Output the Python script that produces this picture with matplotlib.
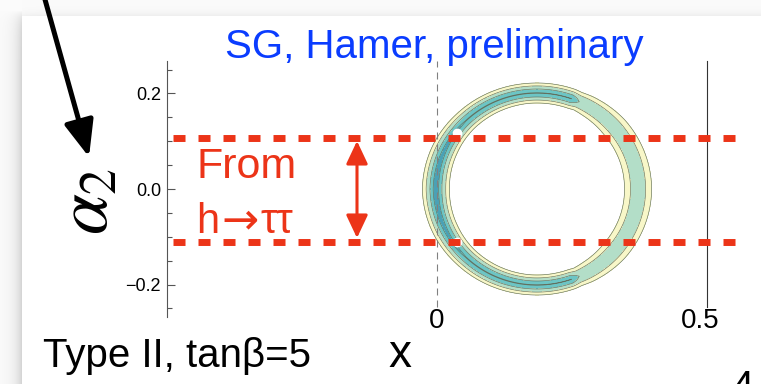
import numpy as np
import matplotlib
matplotlib.use("Agg")
import matplotlib.pyplot as plt
from matplotlib.patches import FancyArrowPatch
from matplotlib.ticker import FixedLocator, MultipleLocator

plt.rcParams['font.family'] = ['Liberation Sans', 'DejaVu Sans']

# ---- data -------------------------------------------------------------
x_limits = (-0.513, 0.513)
y_limits = (-0.268, 0.268)
y_major_ticks = [-0.2, 0.0, 0.2]
y_tick_labels = ['\u22120.2', '0.0', '0.2']
x_ticks = [0.0, 0.5]
x_tick_labels = ['0', '0.5']

# h -> tau tau allowed band for alpha_2
htautau_band = [-0.111, 0.107]

# allowed ring in the (x, alpha_2) plane
ring_center = (0.190, 0.0)
ring_radii = (0.192, 0.201)
profile_angle_deg = [0, 40, 60, 66, 70, 95, 135, 155, 180]
profile_floor = [3.65, 3.4, 2.7, 2.25, 0.497, 0.49, 0.49, 0.25, 0.0]
profile_sigma = [0.047, 0.044, 0.036, 0.032, 0.031, 0.031, 0.034, 0.037, 0.039]
chi2_levels = [-0.01, 0.5, 2.3, 6.18, 11.83]
band_colors = ['#4aa1b6', '#6cc5c5', '#b3dec8', '#f8f7c8']

# benchmark points
point_x = [0.038, 0.038]
point_y = [0.118, -0.112]

W, H = 761, 384
RED = '#ec3418'
BLUE = '#0a3cff'


def fig_xy(px, py):
    return px / W, 1 - py / H


fig = plt.figure(figsize=(W / 100, H / 100), dpi=100, facecolor='white')

# slide panel with soft shadow
yy, xx = np.mgrid[0:H, 0:W].astype(float)
bg = np.full((H, W), 0.985)
px0, py0 = 22, 16
left_dx = np.clip(px0 - xx, 0, None)
top_dy = np.clip(py0 - yy, 0, None)
fade_in = np.clip(1 - np.exp(-(yy - 10) / 8), 0, 1)
left_shadow = 0.17 * np.exp(-left_dx / 7) * fade_in
top_shadow = 0.06 * np.exp(-top_dy / 4) * np.clip(1 - np.exp(-(xx - 14) / 8), 0, 1)
bg = bg - np.where((xx < px0) & (yy >= 10), left_shadow, 0) - np.where((yy < py0) & (xx >= px0), top_shadow, 0)
bg[(xx >= px0) & (yy >= py0)] = 1.0
fig.figimage(np.dstack([bg, bg, bg]), xo=0, yo=0, origin='upper', zorder=-10)

ax = fig.add_axes([167 / W, 67 / H, 540 / W, 256 / H], zorder=1)
ax.patch.set_visible(False)
ax.set_xlim(*x_limits)
ax.set_ylim(*y_limits)

# chi^2 field around the ring
gx = np.linspace(-0.07, 0.46, 1000)
gy = np.linspace(-0.26, 0.26, 1000)
GX, GY = np.meshgrid(gx, gy)
ux = (GX - ring_center[0]) / ring_radii[0]
uy = (GY - ring_center[1]) / ring_radii[1]
rho = np.hypot(ux, uy)
theta = np.degrees(np.abs(np.arctan2(uy, ux)))
floor = np.interp(theta, profile_angle_deg, profile_floor)
sigma = np.interp(theta, profile_angle_deg, profile_sigma)
chi2 = floor + ((rho - 1) / sigma) ** 2

ax.contourf(GX, GY, chi2, levels=chi2_levels, colors=band_colors, zorder=2)
ax.contour(GX, GY, chi2, levels=chi2_levels[1:], colors='#62705f',
           linewidths=0.45, zorder=3)

ax.plot(point_x, point_y, 'o', color='white', markersize=6, zorder=4)

# reference lines
ax.plot([0, 0], [-0.247, y_limits[1]], color='#808080', lw=0.8,
        linestyle=(0, (6.3, 4.5)), zorder=5)

# h -> tau tau band edges
for yb in htautau_band:
    ax.plot([-0.502, 0.582], [yb, yb], color=RED, lw=5,
            linestyle=(0, (1.73, 1.87)), solid_capstyle='butt',
            dash_capstyle='butt', clip_on=False, zorder=6)

# axes styling
for s in ('top', 'bottom'):
    ax.spines[s].set_visible(False)
ax.spines['left'].set_color('#555555')
ax.spines['left'].set_linewidth(0.8)
ax.spines['right'].set_color('#333333')
ax.spines['right'].set_linewidth(0.8)
ax.spines['right'].set_bounds(-0.247, y_limits[1])

ax.yaxis.set_major_locator(FixedLocator(y_major_ticks))
ax.set_yticklabels(y_tick_labels)
ax.yaxis.set_minor_locator(MultipleLocator(0.05))
ax.tick_params(axis='y', which='major', direction='in', length=5.8, width=0.8,
               color='#555555', labelsize=13, pad=4.3)
ax.tick_params(axis='y', which='minor', direction='in', length=3.6, width=0.8,
               color='#555555')
ax.tick_params(axis='y', right=False)
ax.set_xticks(x_ticks, x_tick_labels)
ax.tick_params(axis='x', length=0, labelsize=20, pad=-6.5)

# annotations on the slide
fig.text(*fig_xy(225, 58), 'SG, Hamer, preliminary', color=BLUE, fontsize=29,
         ha='left', va='baseline')
fig.text(*fig_xy(197, 178), 'From', color=RED, fontsize=31, ha='left', va='baseline')
fig.text(*fig_xy(196, 233), 'h', color=RED, fontsize=30, ha='left', va='baseline')
fig.text(*fig_xy(221, 233), '\u2192', color=RED, fontsize=32, ha='left',
         va='baseline', family=['DejaVu Sans'])
fig.text(*fig_xy(260, 233), '\u03c4\u03c4', color=RED, fontsize=30,
         ha='left', va='baseline')
fig.text(*fig_xy(43, 367), 'Type II, tan\u03b2=5', color='black', fontsize=29,
         ha='left', va='baseline')
fig.text(*fig_xy(388, 367), 'x', color='black', fontsize=33, ha='left', va='baseline')
fig.text(*fig_xy(731, 399), '4', color='black', fontsize=29, ha='left', va='baseline')
fig.text(*fig_xy(90, -8), '(', color='black', fontsize=29, ha='left', va='baseline')
fig.text(*fig_xy(305, -8), ')', color='black', fontsize=29, ha='left', va='baseline')
fig.text(*fig_xy(88, 201), r'$\alpha_2$', color='black', fontsize=53,
         rotation=90, ha='center', va='center', math_fontfamily='stix')

# arrows
red_arrow = FancyArrowPatch(fig_xy(357, 238), fig_xy(357, 141),
                            transform=fig.transFigure,
                            arrowstyle='<|-|>,head_length=0.7,head_width=0.33',
                            mutation_scale=20, color=RED, lw=2.2,
                            shrinkA=0, shrinkB=0, zorder=5)
fig.add_artist(red_arrow)
black_arrow = FancyArrowPatch(fig_xy(44, -4), fig_xy(89, 157),
                              transform=fig.transFigure,
                              arrowstyle='-|>,head_length=1.1,head_width=0.45',
                              mutation_scale=20, color='black', lw=3.6,
                              shrinkA=0, shrinkB=0, zorder=5)
fig.add_artist(black_arrow)

fig.savefig('out.png', dpi=100)
